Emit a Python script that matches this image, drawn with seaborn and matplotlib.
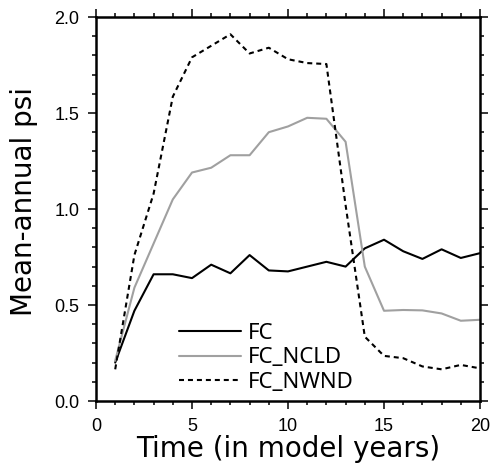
import numpy as np
import pandas as pd
import matplotlib
matplotlib.use("Agg")
import matplotlib.pyplot as plt
import seaborn as sns
from matplotlib.ticker import MultipleLocator

years = list(range(1, 21))
fc = [0.20, 0.47, 0.66, 0.66, 0.64, 0.71, 0.665, 0.76, 0.68, 0.675,
      0.70, 0.725, 0.70, 0.795, 0.84, 0.78, 0.74, 0.79, 0.745, 0.77]
fc_ncld = [0.21, 0.59, 0.82, 1.05, 1.19, 1.215, 1.28, 1.28, 1.40, 1.43,
           1.475, 1.47, 1.35, 0.70, 0.47, 0.474, 0.472, 0.456, 0.418, 0.423]
fc_nwnd = [0.165, 0.76, 1.08, 1.585, 1.79, 1.85, 1.91, 1.81, 1.84, 1.78,
           1.76, 1.755, 1.02, 0.335, 0.235, 0.223, 0.18, 0.165, 0.188, 0.17]
labels = ["FC", "FC_NCLD", "FC_NWND"]
xticks = [0, 5, 10, 15, 20]
yticks = [0.0, 0.5, 1.0, 1.5, 2.0]

sns.set_style("ticks")
plt.rcParams['font.family'] = ['Liberation Sans', 'DejaVu Sans']
plt.rcParams.update({"text.color": "black", "axes.labelcolor": "black",
                     "xtick.color": "black", "ytick.color": "black"})

fig = plt.figure(figsize=(4.92, 4.75), dpi=100)
ax = fig.add_axes([96/492, 1-401/475, 384/492, 384/475])

df = pd.DataFrame({"year": years * 3,
                   "psi": fc + fc_ncld + fc_nwnd,
                   "run": [labels[0]] * 20 + [labels[1]] * 20 + [labels[2]] * 20})

colors = {"FC": "black", "FC_NCLD": "#a0a0a0", "FC_NWND": "black"}
for lab in labels:
    sub = df[df.run == lab]
    kw = {}
    if lab == "FC_NWND":
        kw = dict(dashes=(2.4, 1.9))
    sns.lineplot(data=sub, x="year", y="psi", ax=ax, color=colors[lab],
                 lw=1.5, label=lab, **kw)

ax.set_xlim(0, 20)
ax.set_ylim(0, 2.0)
ax.set_xticks(xticks)
ax.set_xticklabels([str(v) for v in xticks])
ax.set_yticks(yticks)
ax.set_yticklabels([f"{v:.1f}" for v in yticks])
ax.xaxis.set_minor_locator(MultipleLocator(1))
ax.yaxis.set_minor_locator(MultipleLocator(0.1))
ax.tick_params(which="both", direction="out", top=True, right=True,
               width=1.1, color="black", labelcolor="black")
ax.tick_params(which="major", length=6, labelsize=13, pad=6)
ax.tick_params(which="minor", length=3)
for s in ax.spines.values():
    s.set_linewidth(1.8)
    s.set_color("black")
ax.set_xlabel("Time (in model years)", fontsize=20, labelpad=0,
              family=["DejaVu Sans"])
ax.set_ylabel("Mean-annual psi", fontsize=20,
              family=["DejaVu Sans"])
ax.yaxis.set_label_coords(-0.15, 0.52)

leg = ax.legend(loc="upper left", bbox_to_anchor=(83/384, 1-(323-17)/384),
                frameon=False, handlelength=2.8, handletextpad=0.3,
                labelspacing=0.15, borderpad=0, borderaxespad=0,
                prop={"family": "Noto Sans", "size": 16})
for t in leg.get_texts():
    t.set_color("black")

fig.savefig("out.png", dpi=100)
